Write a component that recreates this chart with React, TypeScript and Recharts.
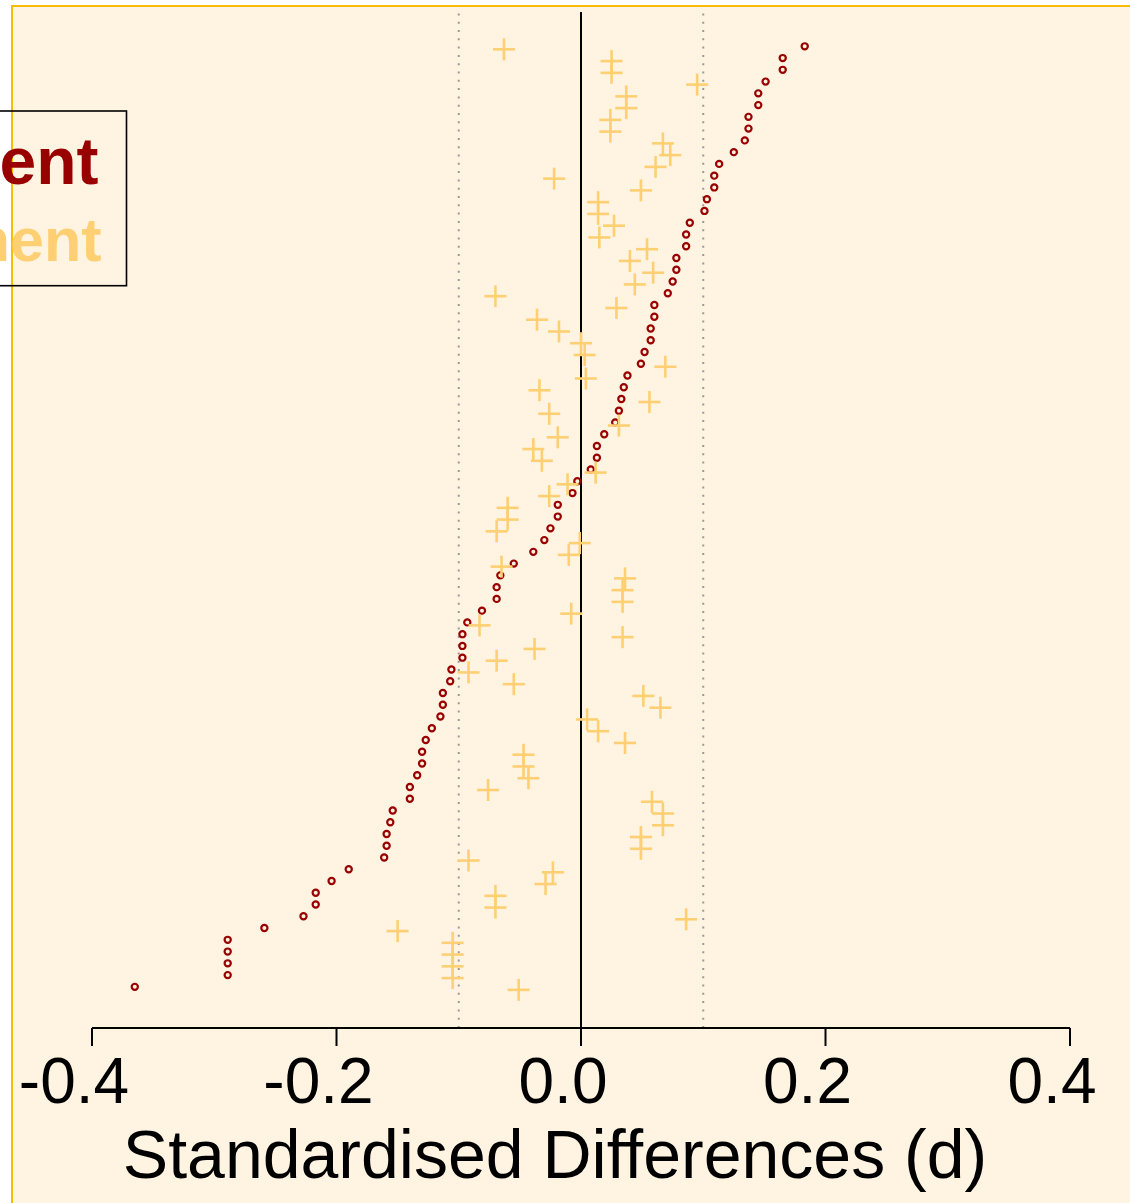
import React from 'react';
import { ScatterChart, Scatter, XAxis, YAxis, ReferenceLine } from 'recharts';

// Standardised differences per covariate row (top row = 1)
const beforeValues = [
  0.183, 0.165, 0.165, 0.151, 0.145, 0.145, 0.137, 0.137, 0.134, 0.125,
  0.113, 0.109, 0.109, 0.103, 0.101, 0.089, 0.086, 0.086, 0.078, 0.078,
  0.075, 0.071, 0.060, 0.060, 0.057, 0.057, 0.052, 0.049, 0.038, 0.035,
  0.033, 0.031, 0.028, 0.019, 0.013, 0.013, 0.008, -0.003, -0.007, -0.019,
  -0.019, -0.025, -0.030, -0.039, -0.055, -0.066, -0.069, -0.069, -0.081, -0.093,
  -0.097, -0.097, -0.097, -0.106, -0.107, -0.113, -0.113, -0.115, -0.122, -0.127,
  -0.130, -0.130, -0.134, -0.140, -0.140, -0.154, -0.156, -0.159, -0.159, -0.161,
  -0.190, -0.204, -0.217, -0.217, -0.227, -0.259, -0.289, -0.289, -0.289, -0.289,
  -0.365,
];

const afterValues = [
  -0.063, 0.025, 0.025, 0.095, 0.037, 0.037, 0.024, 0.024, 0.067, 0.073,
  0.061, -0.022, 0.049, 0.014, 0.014, 0.027, 0.015, 0.054, 0.040, 0.059,
  0.044, -0.070, 0.029, -0.036, -0.018, 0.000, 0.003, 0.069, 0.004, -0.034,
  0.056, -0.026, 0.031, -0.019, -0.039, -0.032, 0.012, -0.011, -0.026, -0.060,
  -0.060, -0.069, -0.001, -0.010, -0.065, 0.036, 0.034, 0.034, -0.008, -0.083,
  0.034, -0.038, -0.069, -0.092, -0.055, 0.051, 0.065, 0.005, 0.014, 0.036,
  -0.047, -0.047, -0.043, -0.076, 0.058, 0.067, 0.067, 0.049, 0.049, -0.092,
  -0.023, -0.029, -0.070, -0.070, 0.086, -0.150, -0.105, -0.105, -0.105, -0.105,
  -0.051,
];

const xTicks = [-0.4, -0.2, 0, 0.2, 0.4];
const thresholdValues = [-0.1, 0.1];
const seriesNames = ['Before Adjustment', 'After Adjustment'];
const axisTitle = 'Standardised Differences (d)';

const beforeData = beforeValues.map((v, i) => ({ x: v, y: i + 1 }));
const afterData = afterValues.map((v, i) => ({ x: v, y: i + 1 }));

const RED = '#990000';
const YEL = '#FFD073';
const GOLD = '#F5BF00';
const BG = '#FFF3E2';
const FONT = '"Liberation Sans", Arial, Helvetica, sans-serif';

const CircleShape = (p: any) => (
  <circle cx={p.cx} cy={p.cy} r={3.1} fill="none" stroke={RED} strokeWidth={2.2} />
);

const CrossShape = (p: any) => {
  const s = 11;
  const cy = p.cy + 3;
  return (
    <g>
      <line x1={p.cx - s} x2={p.cx + s} y1={cy} y2={cy} stroke={YEL} strokeWidth={2.6} />
      <line x1={p.cx} x2={p.cx} y1={cy - s} y2={cy + s} stroke={YEL} strokeWidth={2.6} />
    </g>
  );
};

const Tick = (p: any) => (
  <text
    x={p.x - 18}
    y={p.y + 57}
    textAnchor="middle"
    fontSize={64}
    fontFamily={FONT}
    fill="#000"
  >
    {Number(p.payload.value).toFixed(1)}
  </text>
);

export default function App() {
  return (
    <div style={{ position: 'absolute', left: 0, top: 0, width: 1130, height: 1203, background: '#fff', overflow: 'hidden' }}>
      <div
        style={{
          position: 'absolute',
          left: 11,
          top: 5,
          width: 1200,
          height: 1300,
          background: BG,
          borderTop: `2px solid ${GOLD}`,
          borderLeft: `2px solid ${GOLD}`,
        }}
      />
      <div style={{ position: 'absolute', left: 0, top: 0 }}>
        <ScatterChart
          width={1130}
          height={1203}
          margin={{ top: 12, right: 60, bottom: 0, left: 92 }}
          style={{ fontFamily: FONT }}
        >
          <XAxis
            type="number"
            dataKey="x"
            domain={[-0.4, 0.4]}
            ticks={xTicks}
            allowDataOverflow
            height={175}
            tickSize={18}
            tickMargin={0}
            axisLine={{ stroke: '#000', strokeWidth: 2 }}
            tickLine={{ stroke: '#000', strokeWidth: 2 }}
            tick={<Tick />}
            interval={0}
          />
          <YAxis
            type="number"
            dataKey="y"
            domain={[-1.92, 84.5]}
            reversed
            hide
            width={0}
            allowDataOverflow
          />
          {thresholdValues.map((t) => (
            <ReferenceLine key={t} x={t} stroke="#9a9a9a" strokeWidth={2} strokeDasharray="2 6.3" />
          ))}
          <ReferenceLine x={0} stroke="#000" strokeWidth={2} />
          <Scatter name={seriesNames[0]} data={beforeData} shape={<CircleShape />} isAnimationActive={false} />
          <Scatter name={seriesNames[1]} data={afterData} shape={<CrossShape />} isAnimationActive={false} />
          <g>
            <rect x={-5} y={111} width={131.5} height={174.7} fill="none" stroke="#000" strokeWidth={1.6} />
            <text x={98.5} y={184} textAnchor="end" fontSize={66} fontWeight="bold" fontFamily={FONT} fill={RED}>
              {seriesNames[0]}
            </text>
            <text x={101.5} y={261} textAnchor="end" fontSize={61} fontWeight="bold" fontFamily={FONT} fill={YEL}>
              {seriesNames[1]}
            </text>
            <text x={555} y={1178} textAnchor="middle" fontSize={68} fontFamily={FONT} fill="#000">
              {axisTitle}
            </text>
          </g>
        </ScatterChart>
      </div>
    </div>
  );
}
